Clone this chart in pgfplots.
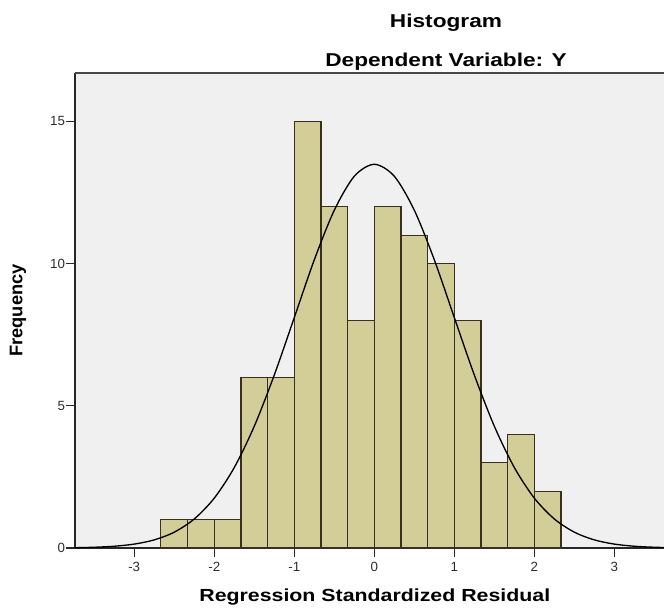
\documentclass[border=0pt]{standalone}
\usepackage{graphicx}
\usepackage{pgfplots}
\pgfplotsset{compat=1.18}
\usepackage{fontspec}
\setmainfont{Liberation Sans}
\definecolor{barFill}{RGB}{211,205,151}
\definecolor{barEdge}{RGB}{55,48,30}
\definecolor{plotBg}{RGB}{240,240,240}
\definecolor{tickGrey}{RGB}{45,45,45}
\definecolor{frameGrey}{RGB}{40,40,40}
% SPSS export is stretched sideways: squash horizontal text a little
\newcommand{\squash}[1]{\scalebox{1}[0.82]{#1}}

\begin{document}
\begin{tikzpicture}
\useasboundingbox (-56.25pt,-44.25pt) rectangle (441.75pt,411pt);
\begin{axis}[at={(0,0)}, anchor=south west, scale only axis,
  width=441.75pt, height=356.25pt,
  xmin=-3.74, xmax=3.62, ymin=0, ymax=16.7,
  axis x line*=bottom, axis y line*=left,
  axis line style={frameGrey, line width=0.8pt},
  axis background/.style={fill=plotBg},
  xtick={-3,-2,-1,0,1,2,3}, ytick={0,5,10,15},
  tick align=outside, major tick length=6.75pt,
  tick style={frameGrey, line width=0.8pt},
  tick label style={font=\fontsize{10}{12}\selectfont, text=tickGrey},
  /pgf/number format/assume math mode=true,
  yticklabel style={inner sep=0.5pt},
  xticklabel style={inner sep=3.5pt},
  xlabel={\squash{\bfseries Regression Standardized Residual}},
  xlabel style={font=\fontsize{16}{18}\selectfont, at={(rel axis cs:0.509,0)}, anchor=center, yshift=-36.5pt},
  ylabel={\bfseries Frequency},
  ylabel style={font=\fontsize{13.7}{16}\selectfont, at={(rel axis cs:0,0.5)}, anchor=center, yshift=42.75pt},
]
% histogram bins, width 1/3
\addplot[ybar interval, fill=barFill, draw=barEdge, line width=0.9pt] coordinates {
  (-2.6667,1) (-2.3333,1) (-2,1) (-1.6667,6) (-1.3333,6) (-1,15) (-0.6667,12)
  (-0.3333,8) (0,12) (0.3333,11) (0.6667,10) (1,8) (1.3333,3) (1.6667,4)
  (2,2) (2.3333,0)};
% normal curve
\addplot[smooth, black, line width=1pt] coordinates {
  (-3.75,0.010) (-3.5,0.026) (-3.25,0.062) (-3,0.137) (-2.75,0.285) (-2.5,0.556)
  (-2.25,1.020) (-2,1.752) (-1.75,2.828) (-1.5,4.28) (-1.25,6.08) (-1,8.10)
  (-0.75,10.13) (-0.5,11.875) (-0.25,13.07) (0,13.49) (0.25,13.07) (0.5,11.875)
  (0.75,10.13) (1,8.10) (1.25,6.08) (1.5,4.28) (1.75,2.828) (2,1.752)
  (2.25,1.020) (2.5,0.556) (2.75,0.285) (3,0.137) (3.25,0.062) (3.5,0.026)
  (3.75,0.010)};
\draw[frameGrey!85, line width=0.8pt] (rel axis cs:0,1) -- (rel axis cs:1,1);
\end{axis}
\node[font=\bfseries\fontsize{17}{20}\selectfont] at (278.25pt,393.75pt) {\squash{Histogram}};
\node[font=\bfseries\fontsize{17}{20}\selectfont] at (278.25pt,364.5pt) {\squash{Dependent Variable: Y}};
\end{tikzpicture}
\end{document}
